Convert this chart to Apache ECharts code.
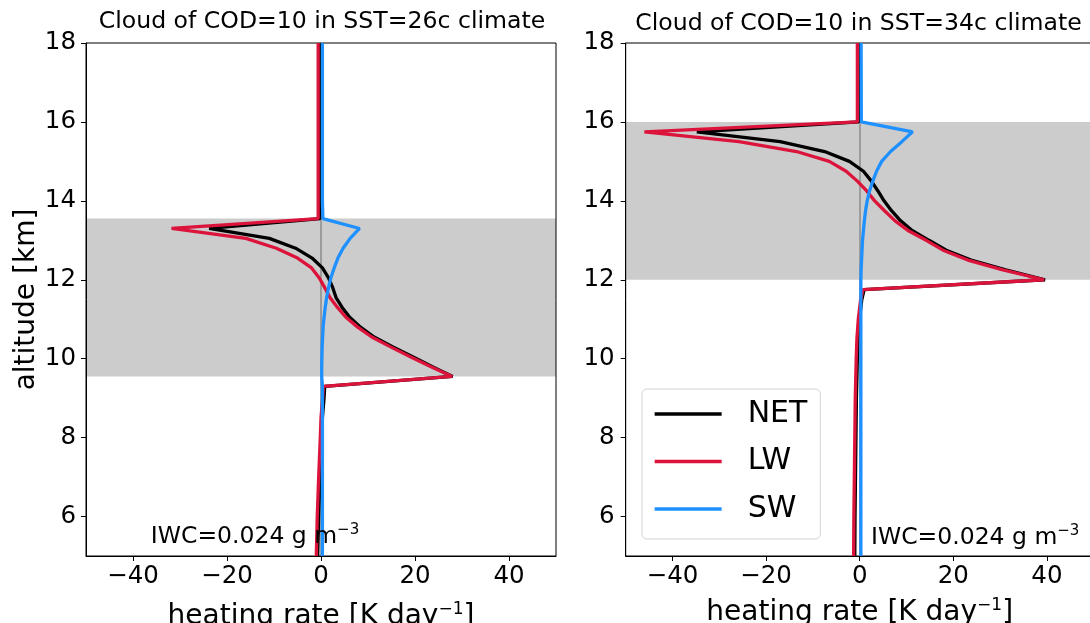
<!DOCTYPE html>
<html>
<head>
<meta charset="utf-8">
<script src="https://cdn.jsdelivr.net/npm/echarts@6/dist/echarts.min.js"></script>
<style>
  html, body { margin: 0; padding: 0; background: #ffffff; }
  #chart { width: 1090px; height: 623px; }
</style>
</head>
<body>
<div id="chart"></div>
<script>
// ---- Heating-rate profiles (K/day) versus altitude (km) ----

// SST = 26 C run
const altitude26 = [18, 16, 14, 13.55, 13.3, 13.05, 12.8, 12.55, 12.3, 12.05, 11.8, 11.55, 11.3, 11.05,
                    10.8, 10.55, 10.3, 10.05, 9.8, 9.55, 9.3, 9.0, 8.5, 8.0, 7.0, 6.0, 5.0];
const net26 = [-0.3, -0.3, -0.3, -0.2, -23.8, -11.0, -5.4, -1.9, 0.3, 1.6, 2.5, 3.2, 4.5, 6.1,
               8.4, 11.3, 15.3, 19.5, 23.6, 28.0, 0.8, 0.65, 0.3, 0.15, -0.2, -0.5, -0.7];
const lw26  = [-0.6, -0.6, -0.6, -0.6, -31.8, -16.0, -9.5, -5.0, -2.0, -0.4, 0.8, 1.9, 3.5, 5.3,
               7.8, 10.8, 14.8, 19.0, 23.3, 27.9, 0.5, 0.35, 0.0, -0.15, -0.5, -0.8, -1.0];
const sw26  = [0.3, 0.3, 0.3, 0.4, 8.2, 6.2, 4.7, 3.6, 2.8, 2.1, 1.6, 1.2, 0.9, 0.65,
               0.45, 0.35, 0.25, 0.2, 0.15, 0.15, 0.3, 0.3, 0.3, 0.3, 0.3, 0.3, 0.3];
const cloudLayer26 = [9.55, 13.55];

// SST = 34 C run
const altitude34 = [18, 16, 15.75, 15.5, 15.25, 15.0, 14.75, 14.5, 14.25, 14.0, 13.75, 13.5, 13.25, 13.0,
                    12.75, 12.5, 12.25, 12.0, 11.75, 11.5, 11.0, 10.5, 10.0, 9.0, 8.0, 7.0, 6.0, 5.0];
const net34 = [-0.2, -0.2, -34.8, -17.0, -7.5, -2.2, 0.8, 2.5, 3.9, 5.2, 6.8, 8.7, 11.2, 14.8,
               18.5, 23.8, 31.2, 39.6, 0.95, 0.45, -0.05, -0.35, -0.5, -0.7, -0.8, -0.9, -1.0, -1.05];
const lw34  = [-0.5, -0.5, -46.0, -25.8, -13.5, -6.5, -2.9, -0.5, 1.5, 3.2, 5.3, 7.5, 10.3, 14.2,
               17.8, 23.1, 30.6, 39.4, 0.7, 0.2, -0.3, -0.6, -0.75, -0.95, -1.05, -1.15, -1.25, -1.3];
const sw34  = [0.3, 0.35, 11.3, 9.0, 6.6, 4.7, 3.6, 2.8, 2.1, 1.6, 1.25, 1.0, 0.8, 0.6,
               0.5, 0.4, 0.3, 0.25, 0.25, 0.25, 0.25, 0.25, 0.25, 0.25, 0.25, 0.25, 0.25, 0.25];
const cloudLayer34 = [12.0, 16.0];

// Axis ticks and texts
const xTicks = [-40, -20, 0, 20, 40];
const yTicks = [6, 8, 10, 12, 14, 16, 18];
const panelTitles = ['Cloud of COD=10 in SST=26c climate', 'Cloud of COD=10 in SST=34c climate'];
const seriesNames = ['NET', 'LW', 'SW'];
const seriesColors = ['#000000', '#DC143C', '#1E90FF'];

const FONT = '"DejaVu Sans", "Liberation Sans", sans-serif';
const LINE_W = 3.3;

function pairs(values, alts) {
  return values.map((v, i) => [v, alts[i]]);
}
const minusSign = v => String(v).replace('-', '\u2212');

function xAxisCfg(gridIndex, nameGap) {
  return {
    type: 'value', gridIndex: gridIndex, min: -50, max: 50, z: 3,
    axisLine: { show: true, onZero: false, lineStyle: { color: '#000', width: 1 } },
    axisTick: { show: true, inside: false, length: 5, customValues: xTicks, lineStyle: { color: '#000', width: 1 } },
    axisLabel: { customValues: xTicks, formatter: minusSign, margin: 8, color: '#000', fontFamily: FONT, fontSize: 24.5 },
    splitLine: { show: false },
    name: '{m|heating rate [K day}{s|\u22121}{m|]}',
    nameLocation: 'middle', nameGap: nameGap,
    nameTextStyle: {
      rich: {
        m: { fontFamily: FONT, fontSize: 28, lineHeight: 32, color: '#000' },
        s: { fontFamily: FONT, fontSize: 17, lineHeight: 17, color: '#000', verticalAlign: 'top' }
      }
    }
  };
}

function yAxisCfg(gridIndex, withName, labelMargin) {
  const cfg = {
    type: 'value', gridIndex: gridIndex, min: 5, max: 18, z: 3,
    axisLine: { show: true, onZero: false, lineStyle: { color: '#000', width: 1 } },
    axisTick: { show: true, inside: false, length: 5, customValues: yTicks, lineStyle: { color: '#000', width: 1 } },
    axisLabel: { customValues: yTicks, margin: labelMargin, color: '#000', fontFamily: FONT, fontSize: 24.5 },
    splitLine: { show: false }
  };
  if (withName) {
    cfg.name = 'altitude [km]';
    cfg.nameLocation = 'middle';
    cfg.nameGap = 44;
    cfg.nameTextStyle = { fontFamily: FONT, fontSize: 28, lineHeight: 28, color: '#000' };
  }
  return cfg;
}

function panelSeries(panel, alts, net, lw, sw, cloud) {
  const cols = [net, lw, sw];
  return cols.map((vals, k) => {
    const s = {
      type: 'line', name: seriesNames[k], xAxisIndex: panel, yAxisIndex: panel,
      data: pairs(vals, alts), symbol: 'none', showSymbol: false, clip: true,
      color: seriesColors[k],
      lineStyle: { color: seriesColors[k], width: LINE_W },
      itemStyle: { color: seriesColors[k] },
      emphasis: { disabled: true }, animation: false
    };
    if (k === 0) {
      // shaded cloud layer and the zero reference line
      s.markArea = {
        silent: true, z: 1,
        itemStyle: { color: '#cccccc' },
        label: { show: false },
        data: [[{ yAxis: cloud[0] }, { yAxis: cloud[1] }]]
      };
      s.markLine = {
        silent: true, z: 1.5, symbol: ['none', 'none'],
        label: { show: false },
        lineStyle: { color: '#8c8c8c', width: 1.5, type: 'solid' },
        data: [{ xAxis: 0 }]
      };
    }
    return s;
  });
}

const iwcRich = {
  m: { fontFamily: FONT, fontSize: 23.5, lineHeight: 28, fill: '#000', color: '#000' },
  s: { fontFamily: FONT, fontSize: 15, lineHeight: 15, fill: '#000', color: '#000', verticalAlign: 'top' }
};
const iwcText = '{m|IWC=0.024 g m}{s|\u22123}';

const chart = echarts.init(document.getElementById('chart'), null, { renderer: 'canvas' });
chart.setOption({
  animation: false,
  backgroundColor: '#ffffff',
  grid: [
    { left: 86, top: 43, width: 470, height: 513, show: true, z: 3, borderColor: '#000', borderWidth: 1,
      backgroundColor: 'transparent', containLabel: false, outerBoundsMode: 'none' },
    { left: 625.7, top: 43, width: 468, height: 513, show: true, z: 3, borderColor: '#000', borderWidth: 1,
      backgroundColor: 'transparent', containLabel: false, outerBoundsMode: 'none' }
  ],
  xAxis: [xAxisCfg(0, 44.6), xAxisCfg(1, 41)],
  yAxis: [yAxisCfg(0, true, 10), yAxisCfg(1, false, 11)],
  legend: {
    data: seriesNames, orient: 'vertical', left: 642, top: 389,
    padding: [10, 13, 15, 11], itemGap: 17.5, itemWidth: 67, itemHeight: 30,
    borderColor: '#d4d4d4', borderWidth: 1, borderRadius: 5,
    backgroundColor: 'rgba(255,255,255,0.8)',
    selectedMode: false,
    itemStyle: { opacity: 0, borderWidth: 0 },
    lineStyle: { width: LINE_W },
    textStyle: { fontFamily: FONT, fontSize: 30, lineHeight: 30, color: '#000', padding: [0, 0, 0, 21] }
  },
  graphic: [
    { type: 'text', x: 322, y: 21.5, silent: true,
      style: { text: panelTitles[0], font: '23.6px "DejaVu Sans"', fill: '#000', align: 'center', verticalAlign: 'middle' } },
    { type: 'text', x: 858.5, y: 24, silent: true,
      style: { text: panelTitles[1], font: '23.6px "DejaVu Sans"', fill: '#000', align: 'center', verticalAlign: 'middle' } },
    { type: 'text', x: 150.8, y: 537, silent: true, z: 10,
      style: { text: iwcText, rich: iwcRich, align: 'left', verticalAlign: 'middle' } },
    { type: 'text', x: 871, y: 537.6, silent: true, z: 10,
      style: { text: iwcText, rich: iwcRich, align: 'left', verticalAlign: 'middle' } }
  ],
  series: [].concat(
    panelSeries(0, altitude26, net26, lw26, sw26, cloudLayer26),
    panelSeries(1, altitude34, net34, lw34, sw34, cloudLayer34)
  )
});
</script>
</body>
</html>
